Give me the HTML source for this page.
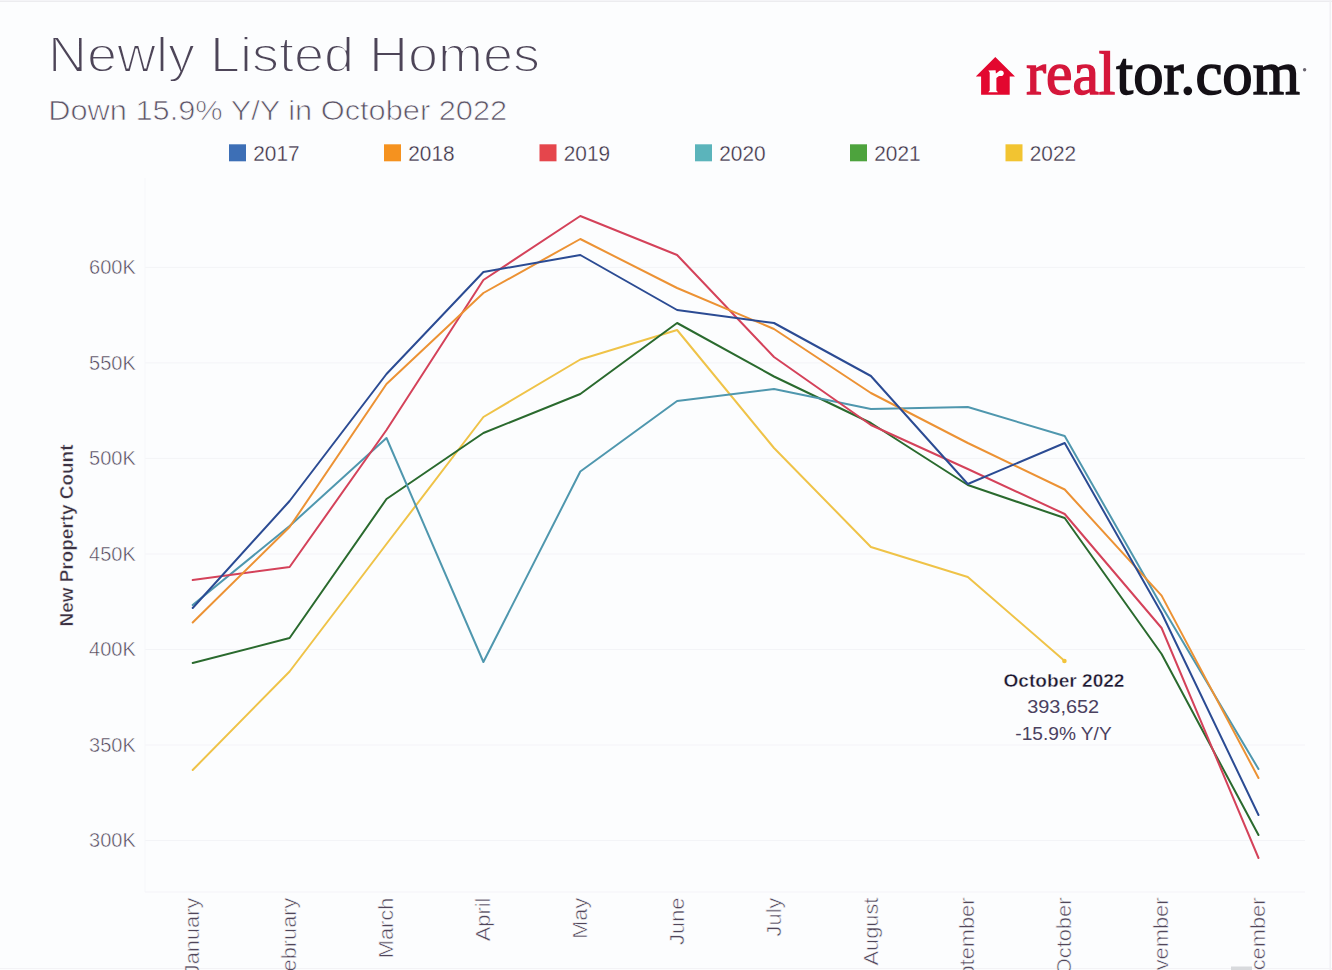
<!DOCTYPE html><html><head><meta charset="utf-8"><title>Newly Listed Homes</title><style>html,body{margin:0;padding:0;background:#fcfdfe;}svg{display:block;}text{font-family:"Liberation Sans",sans-serif;}</style></head><body>
<svg width="1332" height="970" viewBox="0 0 1332 970">
<rect x="0" y="0" width="1332" height="970" fill="#fcfdfe"/>
<rect x="0" y="0.5" width="1332" height="1.5" fill="#ececef"/>
<rect x="1329.5" y="0" width="1.5" height="970" fill="#f0f0f3"/>
<rect x="0" y="968" width="1332" height="1" fill="#f3f3f6"/><rect x="1231" y="966.5" width="21" height="3.5" fill="#d8dadd"/>
<text x="48.1" y="72.4" font-size="50" fill="#4d4558" stroke="#fcfdfe" stroke-width="1.8" textLength="492" lengthAdjust="spacingAndGlyphs">Newly Listed Homes</text>
<text x="48.2" y="120.3" font-size="27" fill="#5c5466" stroke="#fcfdfe" stroke-width="0.7" textLength="459" lengthAdjust="spacingAndGlyphs">Down 15.9% Y/Y in October 2022</text>
<rect x="229" y="144.3" width="17" height="17" fill="#3d6fb6"/>
<text x="253.3" y="160.8" font-size="21.3" fill="#3c3247" stroke="#fcfdfe" stroke-width="0.3" textLength="46.3" lengthAdjust="spacingAndGlyphs">2017</text>
<rect x="384" y="144.3" width="17" height="17" fill="#f5921f"/>
<text x="408.3" y="160.8" font-size="21.3" fill="#3c3247" stroke="#fcfdfe" stroke-width="0.3" textLength="46.3" lengthAdjust="spacingAndGlyphs">2018</text>
<rect x="539.5" y="144.3" width="17" height="17" fill="#e5464c"/>
<text x="563.8" y="160.8" font-size="21.3" fill="#3c3247" stroke="#fcfdfe" stroke-width="0.3" textLength="46.3" lengthAdjust="spacingAndGlyphs">2019</text>
<rect x="695" y="144.3" width="17" height="17" fill="#5bb4bb"/>
<text x="719.3" y="160.8" font-size="21.3" fill="#3c3247" stroke="#fcfdfe" stroke-width="0.3" textLength="46.3" lengthAdjust="spacingAndGlyphs">2020</text>
<rect x="850" y="144.3" width="17" height="17" fill="#4da33d"/>
<text x="874.3" y="160.8" font-size="21.3" fill="#3c3247" stroke="#fcfdfe" stroke-width="0.3" textLength="46.3" lengthAdjust="spacingAndGlyphs">2021</text>
<rect x="1005.5" y="144.3" width="17" height="17" fill="#f2c431"/>
<text x="1029.8" y="160.8" font-size="21.3" fill="#3c3247" stroke="#fcfdfe" stroke-width="0.3" textLength="46.3" lengthAdjust="spacingAndGlyphs">2022</text>
<rect x="145" y="266.9" width="1160" height="1" fill="#f3f4f7"/>
<text x="135.8" y="274.2" font-size="20" fill="#4a4054" stroke="#fcfdfe" stroke-width="0.5" text-anchor="end">600K</text>
<rect x="145" y="362.4" width="1160" height="1" fill="#f3f4f7"/>
<text x="135.8" y="369.7" font-size="20" fill="#4a4054" stroke="#fcfdfe" stroke-width="0.5" text-anchor="end">550K</text>
<rect x="145" y="457.9" width="1160" height="1" fill="#f3f4f7"/>
<text x="135.8" y="465.2" font-size="20" fill="#4a4054" stroke="#fcfdfe" stroke-width="0.5" text-anchor="end">500K</text>
<rect x="145" y="553.5" width="1160" height="1" fill="#f3f4f7"/>
<text x="135.8" y="560.8" font-size="20" fill="#4a4054" stroke="#fcfdfe" stroke-width="0.5" text-anchor="end">450K</text>
<rect x="145" y="649.0" width="1160" height="1" fill="#f3f4f7"/>
<text x="135.8" y="656.3" font-size="20" fill="#4a4054" stroke="#fcfdfe" stroke-width="0.5" text-anchor="end">400K</text>
<rect x="145" y="744.5" width="1160" height="1" fill="#f3f4f7"/>
<text x="135.8" y="751.8" font-size="20" fill="#4a4054" stroke="#fcfdfe" stroke-width="0.5" text-anchor="end">350K</text>
<rect x="145" y="840.0" width="1160" height="1" fill="#f3f4f7"/>
<text x="135.8" y="847.3" font-size="20" fill="#4a4054" stroke="#fcfdfe" stroke-width="0.5" text-anchor="end">300K</text>
<rect x="144.5" y="178" width="1" height="714" fill="#f6f7f9"/>
<rect x="145" y="891.5" width="1160" height="1" fill="#f3f4f7"/>
<text transform="translate(72.6,535.5) rotate(-90)" font-size="18.5" font-weight="bold" fill="#3b3142" stroke="#fcfdfe" stroke-width="0.4" text-anchor="middle" textLength="182" lengthAdjust="spacingAndGlyphs">New Property Count</text>
<text transform="translate(199.3,897.6) rotate(-90)" font-size="20" fill="#50465a" stroke="#fcfdfe" stroke-width="0.5" text-anchor="end" textLength="77.6" lengthAdjust="spacingAndGlyphs">January</text>
<text transform="translate(296.2,897.6) rotate(-90)" font-size="20" fill="#50465a" stroke="#fcfdfe" stroke-width="0.5" text-anchor="end" textLength="87.2" lengthAdjust="spacingAndGlyphs">February</text>
<text transform="translate(393.1,897.6) rotate(-90)" font-size="20" fill="#50465a" stroke="#fcfdfe" stroke-width="0.5" text-anchor="end" textLength="60.6" lengthAdjust="spacingAndGlyphs">March</text>
<text transform="translate(490.0,897.6) rotate(-90)" font-size="20" fill="#50465a" stroke="#fcfdfe" stroke-width="0.5" text-anchor="end" textLength="43.6" lengthAdjust="spacingAndGlyphs">April</text>
<text transform="translate(586.9,897.6) rotate(-90)" font-size="20" fill="#50465a" stroke="#fcfdfe" stroke-width="0.5" text-anchor="end" textLength="41.2" lengthAdjust="spacingAndGlyphs">May</text>
<text transform="translate(683.8,897.6) rotate(-90)" font-size="20" fill="#50465a" stroke="#fcfdfe" stroke-width="0.5" text-anchor="end" textLength="47.3" lengthAdjust="spacingAndGlyphs">June</text>
<text transform="translate(780.6,897.6) rotate(-90)" font-size="20" fill="#50465a" stroke="#fcfdfe" stroke-width="0.5" text-anchor="end" textLength="38.8" lengthAdjust="spacingAndGlyphs">July</text>
<text transform="translate(877.5,897.6) rotate(-90)" font-size="20" fill="#50465a" stroke="#fcfdfe" stroke-width="0.5" text-anchor="end" textLength="67.9" lengthAdjust="spacingAndGlyphs">August</text>
<text transform="translate(974.4,897.6) rotate(-90)" font-size="20" fill="#50465a" stroke="#fcfdfe" stroke-width="0.5" text-anchor="end" textLength="106.6" lengthAdjust="spacingAndGlyphs">September</text>
<text transform="translate(1071.3,897.6) rotate(-90)" font-size="20" fill="#50465a" stroke="#fcfdfe" stroke-width="0.5" text-anchor="end" textLength="77.6" lengthAdjust="spacingAndGlyphs">October</text>
<text transform="translate(1168.2,897.6) rotate(-90)" font-size="20" fill="#50465a" stroke="#fcfdfe" stroke-width="0.5" text-anchor="end" textLength="100.6" lengthAdjust="spacingAndGlyphs">November</text>
<text transform="translate(1265.1,897.6) rotate(-90)" font-size="20" fill="#50465a" stroke="#fcfdfe" stroke-width="0.5" text-anchor="end" textLength="100.6" lengthAdjust="spacingAndGlyphs">December</text>
<polyline points="192.7,770 289.6,671.5 386.5,544 483.4,417 580.3,359.5 677.1,330 774.0,448 870.9,547 967.8,577 1064.7,661" fill="none" stroke="#efc348" stroke-width="2.0" stroke-linejoin="round" stroke-linecap="round"/>
<polyline points="192.7,663 289.6,638 386.5,499 483.4,433 580.3,394 677.1,323 774.0,376.5 870.9,423 967.8,485 1064.7,518 1161.6,654 1258.5,835" fill="none" stroke="#2a6a2e" stroke-width="2.0" stroke-linejoin="round" stroke-linecap="round"/>
<polyline points="192.7,605 289.6,526 386.5,438 483.4,662 580.3,471.5 677.1,401 774.0,389 870.9,409 967.8,407 1064.7,436 1161.6,606 1258.5,769" fill="none" stroke="#4f97ae" stroke-width="2.0" stroke-linejoin="round" stroke-linecap="round"/>
<polyline points="192.7,580 289.6,567 386.5,430 483.4,280 580.3,216 677.1,255 774.0,357 870.9,425 967.8,469 1064.7,514 1161.6,628 1258.5,858" fill="none" stroke="#d4425a" stroke-width="2.0" stroke-linejoin="round" stroke-linecap="round"/>
<polyline points="192.7,622.5 289.6,527 386.5,384 483.4,293 580.3,239 677.1,288 774.0,329 870.9,393 967.8,443 1064.7,489.5 1161.6,595.6 1258.5,778" fill="none" stroke="#ec9234" stroke-width="2.0" stroke-linejoin="round" stroke-linecap="round"/>
<polyline points="192.7,608 289.6,501 386.5,374 483.4,272 580.3,255 677.1,310 774.0,323 870.9,376 967.8,484 1064.7,443 1161.6,613 1258.5,815" fill="none" stroke="#2b4b93" stroke-width="2.0" stroke-linejoin="round" stroke-linecap="round"/>
<circle cx="1064.4" cy="661" r="2.3" fill="#f2c43c"/>
<text x="1064" y="686.6" font-size="19" font-weight="bold" fill="#1c1730" stroke="#fcfdfe" stroke-width="0.4" text-anchor="middle" textLength="121" lengthAdjust="spacingAndGlyphs">October 2022</text>
<text x="1063.2" y="712.5" font-size="19" fill="#4b4160" text-anchor="middle" textLength="72" lengthAdjust="spacingAndGlyphs">393,652</text>
<text x="1063.5" y="740.1" font-size="19" fill="#4b4160" text-anchor="middle" textLength="96.3" lengthAdjust="spacingAndGlyphs">-15.9% Y/Y</text>
<g>
<path d="M995.3,57 L1015,76.4 L1009.7,76.4 L1009.7,94.8 L981.1,94.8 L981.1,76.4 L975.8,76.4 Z" fill="#e3072f"/>
<path d="M988.4,70.6 L995.6,70.2 L995.9,73.6 Q997.6,71.9 999.6,71.4 L1001.5,75.6 Q998.3,75.9 996.4,78 L996.4,90.4 L998,92.3 L988.2,92.3 L989.7,90.4 L989.7,72.4 Z" fill="#fff"/><circle cx="1000.9" cy="73.3" r="2.8" fill="#fff"/>
<text x="1026.3" y="94.3" font-family="Liberation Serif" font-size="61" fill="#d5173b" stroke="#d5173b" stroke-width="1.5" textLength="89" lengthAdjust="spacingAndGlyphs" style="font-family:'Liberation Serif',serif">real</text>
<text x="1116.3" y="94.3" font-family="Liberation Serif" font-size="61" fill="#141016" stroke="#141016" stroke-width="1.5" textLength="183.5" lengthAdjust="spacingAndGlyphs" style="font-family:'Liberation Serif',serif">tor.com</text>
<circle cx="1304.6" cy="69.7" r="1.7" fill="#6a6470"/>
</g>
</svg></body></html>
